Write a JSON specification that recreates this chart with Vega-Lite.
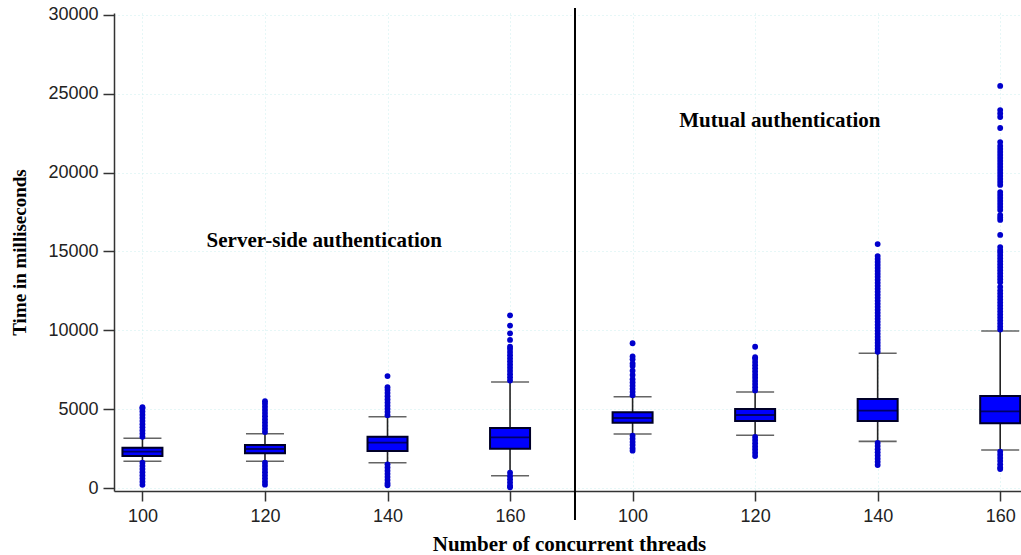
{
  "$schema": "https://vega.github.io/schema/vega-lite/v6.json",
  "width": 907,
  "height": 478,
  "autosize": {"type": "none"},
  "padding": {"left": 114, "top": 13, "right": 0, "bottom": 64},
  "background": "white",
  "config": {
    "view": {"stroke": null},
    "axis": {
      "labelFont": "Liberation Sans",
      "labelFontSize": 18,
      "labelColor": "#222222",
      "titleFont": "Liberation Serif",
      "titleFontWeight": "bold",
      "titleColor": "#000000",
      "domainColor": "#333333",
      "domainWidth": 1.5,
      "tickColor": "#333333",
      "tickWidth": 1.5,
      "tickSize": 10,
      "gridColor": "#cdeeee",
      "gridDash": [1, 3],
      "gridWidth": 1
    }
  },
  "datasets": {
    "boxes": [
      {"pos": 0, "auth": "Server-side", "threads": 100, "lw": 1693, "q1": 2030, "med": 2302, "q3": 2556, "uw": 3152},
      {"pos": 1, "auth": "Server-side", "threads": 120, "lw": 1693, "q1": 2200, "med": 2473, "q3": 2727, "uw": 3444},
      {"pos": 2, "auth": "Server-side", "threads": 140, "lw": 1605, "q1": 2347, "med": 2875, "q3": 3254, "uw": 4522},
      {"pos": 3, "auth": "Server-side", "threads": 160, "lw": 780, "q1": 2494, "med": 3215, "q3": 3805, "uw": 6723},
      {"pos": 4, "auth": "Mutual", "threads": 100, "lw": 3425, "q1": 4143, "med": 4439, "q3": 4801, "uw": 5790},
      {"pos": 5, "auth": "Mutual", "threads": 120, "lw": 3342, "q1": 4249, "med": 4630, "q3": 5010, "uw": 6088},
      {"pos": 6, "auth": "Mutual", "threads": 140, "lw": 2960, "q1": 4249, "med": 4904, "q3": 5644, "uw": 8542},
      {"pos": 7, "auth": "Mutual", "threads": 160, "lw": 2410, "q1": 4101, "med": 4862, "q3": 5835, "uw": 9957}
    ],
    "separator": [{"pos": 3.53, "top": 30442, "bottom": -2029}],
    "labels": [
      {"pos": 1.484, "ms": 15303, "text": "Server-side authentication"},
      {"pos": 5.202, "ms": 22914, "text": "Mutual authentication"}
    ],
    "outliers": [
      {"pos":0,"ms":3250},{"pos":0,"ms":3450},{"pos":0,"ms":3650},{"pos":0,"ms":3850},{"pos":0,"ms":4050},{"pos":0,"ms":4250},{"pos":0,"ms":4450},{"pos":0,"ms":4650},{"pos":0,"ms":4850},{"pos":0,"ms":5050},{"pos":0,"ms":5120},{"pos":0,"ms":1600},{"pos":0,"ms":1400},{"pos":0,"ms":1200},{"pos":0,"ms":1000},{"pos":0,"ms":800},{"pos":0,"ms":600},{"pos":0,"ms":400},{"pos":0,"ms":200},
      {"pos":1,"ms":3550},{"pos":1,"ms":3750},{"pos":1,"ms":3950},{"pos":1,"ms":4150},{"pos":1,"ms":4350},{"pos":1,"ms":4550},{"pos":1,"ms":4750},{"pos":1,"ms":4950},{"pos":1,"ms":5150},{"pos":1,"ms":5350},{"pos":1,"ms":5500},{"pos":1,"ms":1600},{"pos":1,"ms":1400},{"pos":1,"ms":1200},{"pos":1,"ms":1000},{"pos":1,"ms":800},{"pos":1,"ms":600},{"pos":1,"ms":400},{"pos":1,"ms":210},
      {"pos":2,"ms":4620},{"pos":2,"ms":4820},{"pos":2,"ms":5020},{"pos":2,"ms":5220},{"pos":2,"ms":5420},{"pos":2,"ms":5620},{"pos":2,"ms":5820},{"pos":2,"ms":6020},{"pos":2,"ms":6220},{"pos":2,"ms":6390},{"pos":2,"ms":7100},{"pos":2,"ms":1500},{"pos":2,"ms":1300},{"pos":2,"ms":1100},{"pos":2,"ms":900},{"pos":2,"ms":700},{"pos":2,"ms":500},{"pos":2,"ms":300},{"pos":2,"ms":170},
      {"pos":3,"ms":6820},{"pos":3,"ms":7020},{"pos":3,"ms":7220},{"pos":3,"ms":7420},{"pos":3,"ms":7620},{"pos":3,"ms":7820},{"pos":3,"ms":8020},{"pos":3,"ms":8220},{"pos":3,"ms":8420},{"pos":3,"ms":8620},{"pos":3,"ms":8820},{"pos":3,"ms":8960},{"pos":3,"ms":9390},{"pos":3,"ms":9810},{"pos":3,"ms":10300},{"pos":3,"ms":10950},{"pos":3,"ms":970},{"pos":3,"ms":750},{"pos":3,"ms":550},{"pos":3,"ms":350},{"pos":3,"ms":150},{"pos":3,"ms":50},
      {"pos":4,"ms":5890},{"pos":4,"ms":6090},{"pos":4,"ms":6290},{"pos":4,"ms":6490},{"pos":4,"ms":6690},{"pos":4,"ms":6900},{"pos":4,"ms":7170},{"pos":4,"ms":7440},{"pos":4,"ms":7740},{"pos":4,"ms":7900},{"pos":4,"ms":8160},{"pos":4,"ms":8340},{"pos":4,"ms":9180},{"pos":4,"ms":3325},{"pos":4,"ms":3125},{"pos":4,"ms":2925},{"pos":4,"ms":2725},{"pos":4,"ms":2525},{"pos":4,"ms":2370},
      {"pos":5,"ms":6190},{"pos":5,"ms":6390},{"pos":5,"ms":6590},{"pos":5,"ms":6790},{"pos":5,"ms":6990},{"pos":5,"ms":7190},{"pos":5,"ms":7390},{"pos":5,"ms":7590},{"pos":5,"ms":7790},{"pos":5,"ms":7990},{"pos":5,"ms":8190},{"pos":5,"ms":8290},{"pos":5,"ms":8960},{"pos":5,"ms":3240},{"pos":5,"ms":3040},{"pos":5,"ms":2840},{"pos":5,"ms":2640},{"pos":5,"ms":2440},{"pos":5,"ms":2240},{"pos":5,"ms":2030},
      {"pos":6,"ms":8640},{"pos":6,"ms":8830},{"pos":6,"ms":9020},{"pos":6,"ms":9210},{"pos":6,"ms":9400},{"pos":6,"ms":9590},{"pos":6,"ms":9780},{"pos":6,"ms":9970},{"pos":6,"ms":10160},{"pos":6,"ms":10350},{"pos":6,"ms":10540},{"pos":6,"ms":10730},{"pos":6,"ms":10920},{"pos":6,"ms":11110},{"pos":6,"ms":11300},{"pos":6,"ms":11490},{"pos":6,"ms":11680},{"pos":6,"ms":11870},{"pos":6,"ms":12060},{"pos":6,"ms":12250},{"pos":6,"ms":12440},{"pos":6,"ms":12630},{"pos":6,"ms":12820},{"pos":6,"ms":13010},{"pos":6,"ms":13200},{"pos":6,"ms":13390},{"pos":6,"ms":13580},{"pos":6,"ms":13770},{"pos":6,"ms":13960},{"pos":6,"ms":14150},{"pos":6,"ms":14340},{"pos":6,"ms":14530},{"pos":6,"ms":14710},{"pos":6,"ms":15470},{"pos":6,"ms":2860},{"pos":6,"ms":2660},{"pos":6,"ms":2460},{"pos":6,"ms":2260},{"pos":6,"ms":2060},{"pos":6,"ms":1860},{"pos":6,"ms":1660},{"pos":6,"ms":1460},
      {"pos":7,"ms":10050},{"pos":7,"ms":10240},{"pos":7,"ms":10430},{"pos":7,"ms":10620},{"pos":7,"ms":10810},{"pos":7,"ms":11000},{"pos":7,"ms":11190},{"pos":7,"ms":11380},{"pos":7,"ms":11570},{"pos":7,"ms":11760},{"pos":7,"ms":11950},{"pos":7,"ms":12140},{"pos":7,"ms":12330},{"pos":7,"ms":12520},{"pos":7,"ms":12750},{"pos":7,"ms":13050},{"pos":7,"ms":13240},{"pos":7,"ms":13430},{"pos":7,"ms":13620},{"pos":7,"ms":13810},{"pos":7,"ms":14000},{"pos":7,"ms":14190},{"pos":7,"ms":14380},{"pos":7,"ms":14570},{"pos":7,"ms":14760},{"pos":7,"ms":14950},{"pos":7,"ms":15090},{"pos":7,"ms":15280},{"pos":7,"ms":16050},{"pos":7,"ms":17000},{"pos":7,"ms":17150},{"pos":7,"ms":17310},{"pos":7,"ms":17630},{"pos":7,"ms":17820},{"pos":7,"ms":18010},{"pos":7,"ms":18200},{"pos":7,"ms":18390},{"pos":7,"ms":18580},{"pos":7,"ms":18770},{"pos":7,"ms":19220},{"pos":7,"ms":19410},{"pos":7,"ms":19600},{"pos":7,"ms":19790},{"pos":7,"ms":19980},{"pos":7,"ms":20170},{"pos":7,"ms":20360},{"pos":7,"ms":20550},{"pos":7,"ms":20740},{"pos":7,"ms":20930},{"pos":7,"ms":21120},{"pos":7,"ms":21310},{"pos":7,"ms":21500},{"pos":7,"ms":21690},{"pos":7,"ms":21940},{"pos":7,"ms":22830},{"pos":7,"ms":23530},{"pos":7,"ms":23750},{"pos":7,"ms":23970},{"pos":7,"ms":25500},{"pos":7,"ms":2310},{"pos":7,"ms":2110},{"pos":7,"ms":1910},{"pos":7,"ms":1710},{"pos":7,"ms":1500},{"pos":7,"ms":1300},{"pos":7,"ms":1205}
    ]
  },
  "encoding": {
    "x": {
      "field": "pos",
      "type": "quantitative",
      "scale": {"domain": [-0.1913, 7.129], "nice": false, "zero": false},
      "axis": {
        "title": "Number of concurrent threads",
        "titleFontSize": 21,
        "titleX": 455,
        "titleY": 59,
        "titleBaseline": "alphabetic",
        "titleAnchor": null,
        "values": [0, 1, 2, 3, 4, 5, 6, 7],
        "labelExpr": "['100','120','140','160','100','120','140','160'][datum.value]",
        "labelPadding": 6,
        "labelFlush": false,
        "grid": true
      }
    }
  },
  "layer": [
    {
      "data": {"name": "boxes"},
      "mark": {"type": "rule", "color": "#222222", "strokeWidth": 1.6},
      "encoding": {
        "y": {
          "field": "lw",
          "type": "quantitative",
          "scale": {"domain": [-190, 30125], "nice": false, "zero": false},
          "axis": {
            "title": "Time in milliseconds",
            "titleFontSize": 19,
            "titleAngle": 270,
            "titleX": -95,
            "titleY": 239,
            "titleAlign": "center",
            "titleBaseline": "middle",
            "titleAnchor": null,
            "values": [0, 5000, 10000, 15000, 20000, 25000, 30000],
            "format": "d",
            "labelPadding": 5,
            "tickSize": 11,
            "grid": true
          }
        },
        "y2": {"field": "uw"}
      }
    },
    {
      "data": {"name": "boxes"},
      "mark": {"type": "tick", "orient": "horizontal", "size": 38, "thickness": 1.6, "color": "#222222"},
      "encoding": {"y": {"field": "lw", "type": "quantitative"}}
    },
    {
      "data": {"name": "boxes"},
      "mark": {"type": "tick", "orient": "horizontal", "size": 38, "thickness": 1.6, "color": "#222222"},
      "encoding": {"y": {"field": "uw", "type": "quantitative"}}
    },
    {
      "data": {"name": "boxes"},
      "mark": {"type": "bar", "size": 40, "fill": "#0000ff", "stroke": "#000028", "strokeWidth": 2},
      "encoding": {"y": {"field": "q1", "type": "quantitative"}, "y2": {"field": "q3"}}
    },
    {
      "data": {"name": "boxes"},
      "mark": {"type": "tick", "orient": "horizontal", "size": 40, "thickness": 1.8, "color": "#000028"},
      "encoding": {"y": {"field": "med", "type": "quantitative"}}
    },
    {
      "data": {"name": "outliers"},
      "mark": {"type": "circle", "size": 34, "color": "#0000cc", "opacity": 1},
      "encoding": {"y": {"field": "ms", "type": "quantitative"}}
    },
    {
      "data": {"name": "separator"},
      "mark": {"type": "rule", "color": "#000000", "strokeWidth": 2},
      "encoding": {"y": {"field": "bottom", "type": "quantitative"}, "y2": {"field": "top"}}
    },
    {
      "data": {"name": "labels"},
      "mark": {"type": "text", "font": "Liberation Serif", "fontWeight": "bold", "fontSize": 21, "align": "center", "baseline": "alphabetic", "color": "#000000"},
      "encoding": {"y": {"field": "ms", "type": "quantitative"}, "text": {"field": "text"}}
    }
  ]
}
